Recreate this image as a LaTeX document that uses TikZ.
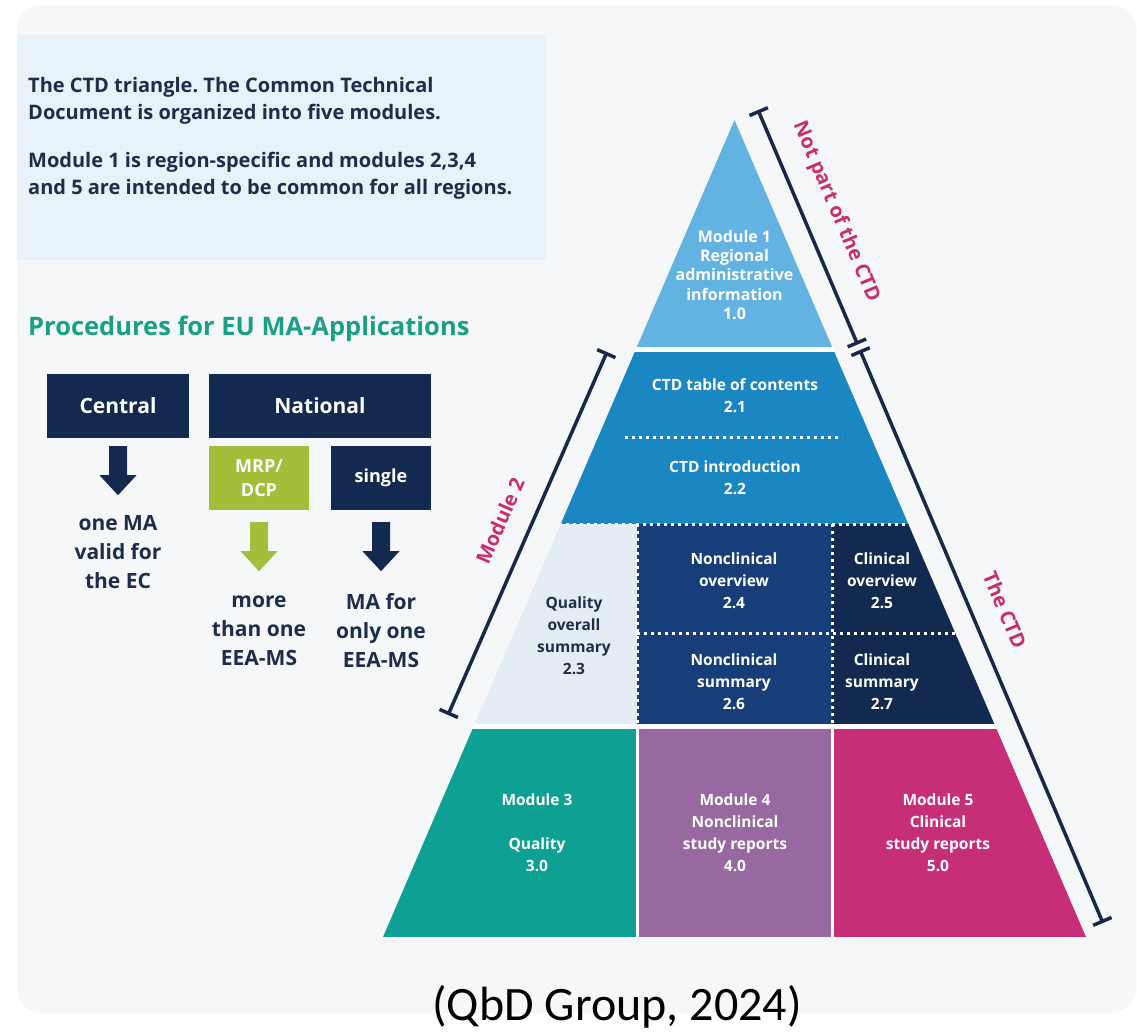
\documentclass[tikz,border=0pt]{standalone}
\usepackage{fontspec}
\setmainfont{Open Sans}
\newfontfamily\captionfont{Carlito}
\usetikzlibrary{arrows.meta}
\frenchspacing

\definecolor{bggrey}{HTML}{F6F7F8}
\definecolor{infoblue}{HTML}{E8F2FA}
\definecolor{textnavy}{HTML}{1E2D4B}
\definecolor{headteal}{HTML}{19A087}
\definecolor{navy}{HTML}{142950}
\definecolor{mrpgreen}{HTML}{A2BE3A}
\definecolor{dimnavy}{HTML}{182848}
\definecolor{labelpink}{HTML}{C82D6E}
\definecolor{modone}{HTML}{62B2E2}
\definecolor{modtwo}{HTML}{1A87C3}
\definecolor{qos}{HTML}{E4EDF5}
\definecolor{ncblue}{HTML}{183E7A}
\definecolor{clnavy}{HTML}{132A50}
\definecolor{modthree}{HTML}{0FA094}
\definecolor{modfour}{HTML}{9868A0}
\definecolor{modfive}{HTML}{C62E78}

\begin{document}
\begin{tikzpicture}[x=1pt,y=-1pt,
    intro/.style={text=textnavy,font=\bfseries\fontsize{20}{27.5}\selectfont,align=left,inner sep=0pt},
    box/.style={fill=navy,text=white,font=\bfseries\fontsize{21}{24}\selectfont,minimum height=64pt,inner sep=0pt},
    result/.style={text=textnavy,font=\bfseries\fontsize{21}{29}\selectfont,align=center,inner sep=0pt},
    modtext/.style={text=white,font=\bfseries\fontsize{15.5}{22}\selectfont,align=center,inner sep=0pt},
    dotline/.style={white,line width=3pt,dash pattern=on 3pt off 4pt},
    dimline/.style={dimnavy,line width=3.5pt,{Bar[width=20pt]}-{Bar[width=20pt]}},
    dimlabel/.style={text=labelpink,font=\bfseries\fontsize{20}{24}\selectfont,inner sep=1pt},
    blockarrow/.pic={\fill (-9,0) -- (9,0) -- (9,29) -- (18.5,29) -- (0,49) -- (-18.5,29) -- (-9,29) -- cycle;}]

  \useasboundingbox (0,0) rectangle (1137,1035);
  \fill[white] (0,0) rectangle (1137,1035);
  \fill[bggrey,rounded corners=24pt] (17,5) rectangle (1136,1013);

  % info panel
  \fill[infoblue] (17,35) rectangle (546,260);
  \node[intro,anchor=west] (ctdintro) at (28,101) {The CTD triangle. The Common Technical\\Document is organized into five modules.};
  \node[intro,anchor=west] (ctdscope) at (28,176) {Module 1 is region-specific and modules 2,3,4\\and 5 are intended to be common for all regions.};

  % procedures
  \node[anchor=base west,inner sep=0pt,text=headteal,font=\bfseries\fontsize{25.5}{30}\selectfont] (proc) at (28,335) {Procedures for EU MA-Applications};
  \node[box,minimum width=142pt] (central) at (118,406) {Central};
  \node[box,minimum width=222pt] (national) at (320,406) {National};
  \node[box,fill=mrpgreen,minimum width=100pt,align=center,font=\bfseries\fontsize{18}{24}\selectfont] (mrp) at (259,478) {MRP/\\DCP};
  \node[box,minimum width=100pt,font=\bfseries\fontsize{18}{24}\selectfont] (single) at (381,478) {single};
  \pic[navy] at ([yshift=-8pt]central.south) {blockarrow};
  \pic[mrpgreen] at ([yshift=-12pt]mrp.south) {blockarrow};
  \pic[navy] at ([yshift=-12pt]single.south) {blockarrow};
  \node[result] (ecresult) at (118,552) {one MA\\valid for\\the EC};
  \node[result] (mrpresult) at (259,631) {more\\than one\\EEA-MS};
  \node[result] (singleresult) at (381,631) {MA for\\only one\\EEA-MS};

  % the triangle
  \fill[white] (734.5,120) -- (383,937) -- (1086,937) -- cycle;
  \begin{scope}
    \clip (734.5,120) -- (383,937) -- (1086,937) -- cycle;
    \fill[modone] (370,100) rectangle (1100,347);
    \fill[modtwo] (370,352) rectangle (1100,524);
    \fill[qos] (370,524) rectangle (637,724);
    \fill[ncblue] (637,524) rectangle (832,724);
    \fill[clnavy] (832,524) rectangle (1100,724);
    \fill[modthree] (370,729) rectangle (635.5,937);
    \fill[modfour] (638.5,729) rectangle (830.5,937);
    \fill[modfive] (833.5,729) rectangle (1100,937);
    \draw[dotline] (625,437) -- (842,437);
    \draw[dotline] (370,524) -- (1100,524);
    \draw[dotline] (637,524) -- (637,724);
    \draw[dotline] (832,524) -- (832,724);
    \draw[dotline] (637,633) -- (1100,633);
  \end{scope}

  \node[modtext,font=\bfseries\fontsize{16}{19.3}\selectfont] (mone) at (734.5,275) {Module 1\\Regional\\administrative\\information\\1.0};
  \node[modtext] (toc) at (735,396) {CTD table of contents\\2.1};
  \node[modtext] (ctdintro2) at (735,478) {CTD introduction\\2.2};
  \node[modtext,text=textnavy] (qualsum) at (574,636) {Quality\\overall\\summary\\2.3};
  \node[modtext] (ncover) at (734,581) {Nonclinical\\overview\\2.4};
  \node[modtext] (clover) at (882,581) {Clinical\\overview\\2.5};
  \node[modtext] (ncsum) at (734,682) {Nonclinical\\summary\\2.6};
  \node[modtext] (clsum) at (882,682) {Clinical\\summary\\2.7};
  \node[modtext] (mthree) at (537,833) {Module 3\\~\\Quality\\3.0};
  \node[modtext] (mfour) at (735,833) {Module 4\\Nonclinical\\study reports\\4.0};
  \node[modtext] (mfive) at (938,833) {Module 5\\Clinical\\study reports\\5.0};

  % dimension lines
  \coordinate (nptop) at (758,110);
  \coordinate (npbot) at (857.6,344.5);
  \coordinate (ctdtop) at (859.9,350);
  \coordinate (ctdbot) at (1103,923);
  \coordinate (mtwotop) at (607,352);
  \coordinate (mtwobot) at (448,715);
  \draw[dimline] (nptop) -- (npbot);
  \draw[dimline] (ctdtop) -- (ctdbot);
  \draw[dimline] (mtwobot) -- (mtwotop);
  \node[dimlabel,rotate=-67] (notpart) at (836,212) {Not part of the CTD};
  \node[dimlabel,rotate=-67] (thectd) at (1005,610) {The CTD};
  \node[dimlabel,rotate=66.3] (moduletwo) at (500,521) {Module 2};

  \node[anchor=base,inner sep=0pt,font=\captionfont\fontsize{48}{50}\selectfont] (source) at (617,1020) {(QbD Group, 2024)};
\end{tikzpicture}
\end{document}
